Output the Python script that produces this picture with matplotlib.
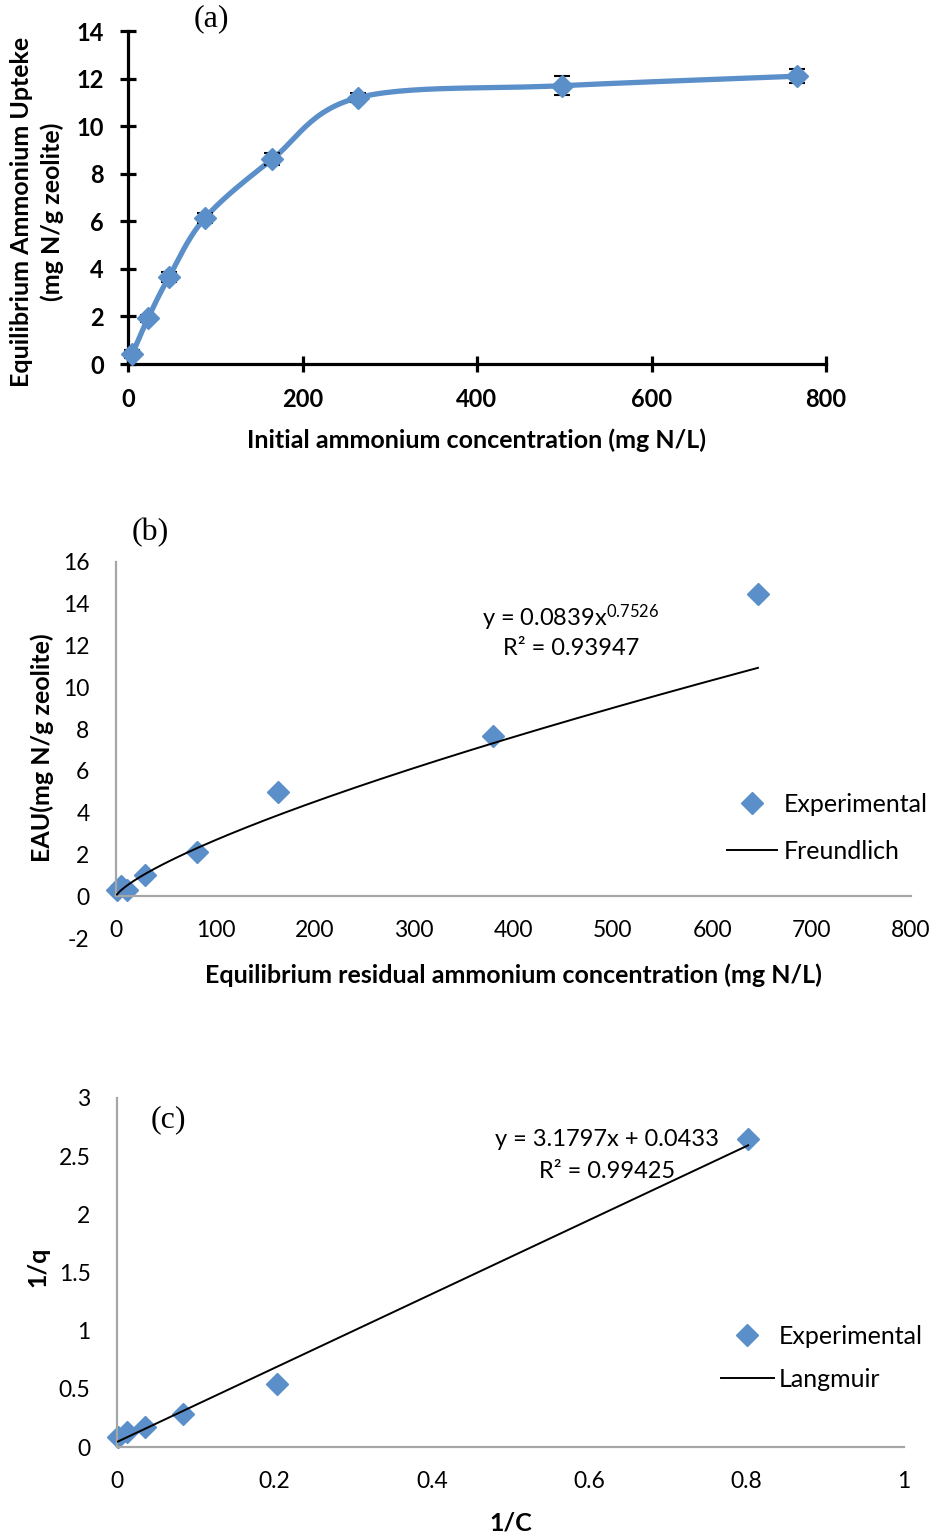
import numpy as np
import matplotlib
matplotlib.use('Agg')
import matplotlib.pyplot as plt
from matplotlib.lines import Line2D

plt.rcParams['font.family'] = ['Lato', 'DejaVu Sans']
plt.rcParams['mathtext.fontset'] = 'custom'
plt.rcParams['mathtext.rm'] = 'Lato'
plt.rcParams['mathtext.it'] = 'Lato:italic'
plt.rcParams['mathtext.bf'] = 'Lato:bold'
plt.rcParams['axes.unicode_minus'] = False

# ---------------- data ----------------
# (a) initial concentration vs equilibrium uptake
a_x = [5, 23, 47, 88, 165, 264, 497, 767]
a_y = [0.42, 1.93, 3.66, 6.13, 8.6, 11.2, 11.7, 12.1]
a_err = [0.15, 0.15, 0.2, 0.2, 0.25, 0.2, 0.4, 0.3]
a_xticks = [0, 200, 400, 600, 800]
a_yticks = [0, 2, 4, 6, 8, 10, 12, 14]

# (b) Freundlich
b_x = [1, 5, 11, 29, 82, 163, 379, 646]
b_y = [0.3, 0.5, 0.3, 1.0, 2.1, 5.0, 7.65, 14.45]
freundlich_k = 0.0839
freundlich_n = 0.7526
b_xticks = [0, 100, 200, 300, 400, 500, 600, 700, 800]
b_yticks = [-2, 0, 2, 4, 6, 8, 10, 12, 14, 16]

# (c) Langmuir
c_x = [0.001, 0.013, 0.036, 0.084, 0.203, 0.802]
c_y = [0.085, 0.13, 0.17, 0.28, 0.54, 2.65]
lang_slope = 3.1797
lang_icpt = 0.0433
c_xticks = [0, 0.2, 0.4, 0.6, 0.8, 1]
c_yticks = [0, 0.5, 1, 1.5, 2, 2.5, 3]

BLUE = '#5b8fc9'
GRAY = '#a6a6a6'
W, H = 936, 1537
TXT = 18
TCK = 16.5
MS = 11

fig = plt.figure(figsize=(W / 100, H / 100), dpi=100)


def ax_px(l, t, r, b):
    return fig.add_axes([l / W, 1 - b / H, (r - l) / W, (b - t) / H])


def ftext(x, y, s, **kw):
    fig.text(x / W, 1 - y / H, s, **kw)


def catmull(xs, ys, sx, sy, n=30):
    px = np.asarray(xs, float) * sx
    py = np.asarray(ys, float) * sy
    P = np.column_stack([px, py])
    P = np.vstack([P[0], P, P[-1]])
    out = []
    for i in range(1, len(P) - 2):
        p0, p1, p2, p3 = P[i - 1], P[i], P[i + 1], P[i + 2]
        c1 = p1 + (p2 - p0) / 6.0
        c2 = p2 - (p3 - p1) / 6.0
        t = np.linspace(0, 1, n)[:, None]
        seg = ((1 - t) ** 3) * p1 + 3 * ((1 - t) ** 2) * t * c1 + 3 * (1 - t) * t ** 2 * c2 + t ** 3 * p2
        out.append(seg)
    out = np.vstack(out)
    return out[:, 0] / sx, out[:, 1] / sy


# ---------------- panel (a) ----------------
axa = ax_px(128, 31, 826, 364)
axa.set_xlim(0, 800)
axa.set_ylim(0, 14)
for s in ['top', 'right']:
    axa.spines[s].set_visible(False)
for s in ['left', 'bottom']:
    axa.spines[s].set_linewidth(2.3)
    axa.spines[s].set_color('black')
axa.set_xticks(a_xticks)
axa.set_yticks(a_yticks)
axa.tick_params(direction='inout', length=11, width=2.3, labelsize=17)
axa.tick_params(axis='y', pad=12)
axa.tick_params(axis='x', pad=12)
for lab in axa.get_xticklabels() + axa.get_yticklabels():
    lab.set_fontweight('bold')
sx_a = 698 / 800
sy_a = 333 / 14
cx, cy = catmull(a_x, a_y, sx_a, sy_a)
axa.plot(cx, cy, color=BLUE, lw=3.8, solid_capstyle='round', zorder=2, clip_on=False)
axa.errorbar(a_x, a_y, yerr=a_err, fmt='none', ecolor='black', elinewidth=1.2,
             capsize=6, capthick=1.5, zorder=3, clip_on=False)
axa.plot(a_x, a_y, ls='none', marker='D', ms=MS, color=BLUE, mec=BLUE, zorder=4, clip_on=False)
ftext(477, 440, 'Initial ammonium concentration (mg N/L)', ha='center', va='center',
      fontsize=TXT, fontweight='bold')
ftext(22, 212, 'Equilibrium Ammonium Upteke', rotation=90, ha='center', va='center',
      fontsize=TXT, fontweight='bold')
ftext(52, 212, '(mg N/g zeolite)', rotation=90, ha='center', va='center',
      fontsize=TXT, fontweight='bold')
ftext(211, 19, '(a)', ha='center', va='center', fontsize=23, family='Liberation Serif')

# ---------------- panel (b) ----------------
axb = ax_px(116, 562, 911, 938)
axb.set_xlim(0, 800)
axb.set_ylim(-2, 16)
for s in ['top', 'right']:
    axb.spines[s].set_visible(False)
axb.spines['bottom'].set_position(('data', 0))
axb.spines['left'].set_bounds(0, 16)
for s in ['left', 'bottom']:
    axb.spines[s].set_color(GRAY)
    axb.spines[s].set_linewidth(1.6)
axb.set_xticks(b_xticks)
axb.set_yticks(b_yticks)
axb.tick_params(axis='both', length=0, labelsize=TCK)
axb.tick_params(axis='y', pad=19)
axb.tick_params(axis='x', pad=17)
bx_fit = np.linspace(min(b_x), max(b_x), 300)
axb.plot(bx_fit, freundlich_k * bx_fit ** freundlich_n, color='black', lw=1.4, zorder=3)
axb.plot(b_x, b_y, ls='none', marker='D', ms=MS, color=BLUE, mec=BLUE, zorder=2, clip_on=False)
ftext(513, 975, 'Equilibrium residual ammonium concentration (mg N/L)', ha='center', va='center',
      fontsize=TXT, fontweight='bold')
ftext(42, 748, 'EAU(mg N/g zeolite)', rotation=90, ha='center', va='center',
      fontsize=TXT, fontweight='bold')
ftext(150, 533, '(b)', ha='center', va='center', fontsize=23, family='Liberation Serif')
ftext(571, 618, r'y = 0.0839x$^{0.7526}$', ha='center', va='center', fontsize=17)
ftext(571, 649, 'R² = 0.93947', ha='center', va='center', fontsize=17)
hb = [Line2D([], [], ls='none', marker='D', ms=MS, color=BLUE),
      Line2D([], [], color='black', lw=1.4)]
axb.legend(hb, ['Experimental', 'Freundlich'], frameon=False, fontsize=TXT,
           loc='upper left', bbox_to_anchor=(727 / W, 1 - 793 / H),
           bbox_transform=fig.transFigure, handlelength=2.0, handletextpad=0.25,
           labelspacing=0.95, borderaxespad=0, borderpad=0)

# ---------------- panel (c) ----------------
axc = ax_px(117, 1098, 904, 1447)
axc.set_xlim(0, 1)
axc.set_ylim(0, 3)
for s in ['top', 'right']:
    axc.spines[s].set_visible(False)
for s in ['left', 'bottom']:
    axc.spines[s].set_color(GRAY)
    axc.spines[s].set_linewidth(1.6)
axc.set_xticks(c_xticks)
axc.set_xticklabels(['0', '0.2', '0.4', '0.6', '0.8', '1'])
axc.set_yticks(c_yticks)
axc.set_yticklabels(['0', '0.5', '1', '1.5', '2', '2.5', '3'])
axc.tick_params(axis='both', length=0, labelsize=TCK)
axc.tick_params(axis='y', pad=19)
axc.tick_params(axis='x', pad=17)
cx_fit = np.linspace(min(c_x), max(c_x), 50)
axc.plot(cx_fit, lang_slope * cx_fit + lang_icpt, color='black', lw=1.4, zorder=3)
axc.plot(c_x, c_y, ls='none', marker='D', ms=MS, color=BLUE, mec=BLUE, zorder=2, clip_on=False)
ftext(511, 1523, '1/C', ha='center', va='center', fontsize=TXT, fontweight='bold')
ftext(38, 1267, '1/q', rotation=90, ha='center', va='center', fontsize=TXT, fontweight='bold')
ftext(168, 1120, '(c)', ha='center', va='center', fontsize=23, family='Liberation Serif')
ftext(607, 1140, 'y = 3.1797x + 0.0433', ha='center', va='center', fontsize=17)
ftext(607, 1171, 'R² = 0.99425', ha='center', va='center', fontsize=17)
hc = [Line2D([], [], ls='none', marker='D', ms=MS, color=BLUE),
      Line2D([], [], color='black', lw=1.4)]
axc.legend(hc, ['Experimental', 'Langmuir'], frameon=False, fontsize=TXT,
           loc='upper left', bbox_to_anchor=(721 / W, 1 - 1325 / H),
           bbox_transform=fig.transFigure, handlelength=2.1, handletextpad=0.2,
           labelspacing=0.8, borderaxespad=0, borderpad=0)

fig.savefig('out.png', dpi=100)
